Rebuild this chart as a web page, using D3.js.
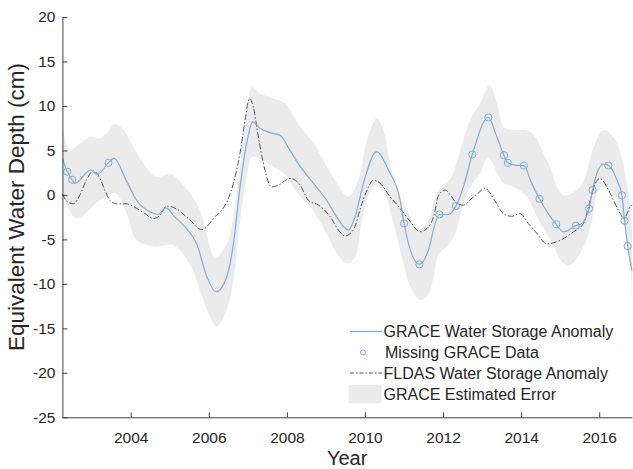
<!DOCTYPE html>

<head>
    <meta charset="utf-8">
    <script src="https://d3js.org/d3.v7.min.js"></script>
    <style>
        body {
            margin: 0;
            background: #fff;
            font-family: "Liberation Sans", Arial, sans-serif;
        }

        .axis path,
        .axis line {
            stroke: #404040;
            stroke-width: 1;
        }

        .axis text {
            font-size: 15.5px;
            fill: #262626;
            font-family: "Liberation Sans", Arial, sans-serif;
        }

        .legend text {
            font-size: 16px;
            fill: #262626;
        }
    </style>
</head>

<body>
    <script>
        // GRACE water storage anomaly (cm)
        var graceYears = [2002.25, 2002.375, 2002.50, 2002.57, 2002.975, 2003.14, 2003.43, 2003.57, 2003.90, 2004.15,
            2004.49, 2004.71, 2004.90, 2005.135, 2005.43, 2005.69, 2005.95, 2006.185, 2006.46, 2006.63,
            2006.80, 2006.97, 2007.125, 2007.31, 2007.57, 2007.825, 2008.08, 2008.34, 2008.68, 2009.02,
            2009.28, 2009.575, 2009.75, 2009.96, 2010.30, 2010.60, 2010.90, 2011.00, 2011.395, 2011.625,
            2011.80, 2011.905, 2012.14, 2012.33, 2012.52, 2012.75, 2013.16, 2013.38, 2013.56, 2013.66,
            2013.85, 2014.07, 2014.27, 2014.47, 2014.90, 2015.08, 2015.40, 2015.555, 2015.74, 2015.83,
            2015.94, 2016.11, 2016.235, 2016.45, 2016.58, 2016.65, 2016.73, 2016.84];
        var graceCm = [4.1, 2.6, 1.7, 1.3, 2.8, 2.3, 3.6, 4.1, 1.5, -0.6,
            -1.9, -2.2, -1.45, -2.5, -3.8, -5.5, -9.2, -10.9, -9.2, -5.5,
            0.9, 5.8, 8.2, 7.5, 7.0, 6.7, 5.0, 3.2, 1.3, -0.6,
            -2.5, -3.95, -2.4, 1.3, 4.85, 2.8, -0.6, -3.2, -7.8, -6.2,
            -3.2, -2.2, -2.2, -1.25, 0.9, 4.55, 8.7, 6.5, 4.45, 3.6,
            3.35, 3.3, 1.3, -0.45, -3.3, -4.15, -3.45, -3.2, -1.55, 0.55,
            2.4, 3.45, 3.3, 1.7, -0.05, -2.9, -5.75, -8.5];

        // months without GRACE data (filled values)
        var missYears = [2002.375, 2002.50, 2003.43, 2011.00, 2011.395, 2011.905, 2012.33, 2012.75, 2013.16, 2013.56,
            2013.66, 2014.07, 2014.47, 2014.90, 2015.40, 2015.74, 2015.83, 2016.235, 2016.58, 2016.65, 2016.73];
        var missCm = [2.6, 1.7, 3.6, -3.2, -7.8, -2.2, -1.25, 4.55, 8.7, 4.45,
            3.6, 3.3, -0.45, -3.3, -3.45, -1.55, 0.55, 3.3, -0.05, -2.9, -5.75];

        // FLDAS water storage anomaly (cm)
        var fldasYears = [2002.25, 2002.36, 2002.53, 2002.70, 2002.87, 2003.04, 2003.195, 2003.34, 2003.47, 2003.64,
            2003.90, 2004.11, 2004.365, 2004.58, 2004.75, 2004.92, 2005.18, 2005.475, 2005.82, 2006.16,
            2006.46, 2006.63, 2006.80, 2006.93, 2007.04, 2007.14, 2007.27, 2007.415, 2007.61, 2007.78,
            2008.08, 2008.34, 2008.55, 2008.81, 2009.11, 2009.32, 2009.49, 2009.70, 2009.92, 2010.09,
            2010.215, 2010.39, 2010.64, 2010.90, 2011.16, 2011.41, 2011.625, 2011.78, 2011.87, 2012.05,
            2012.22, 2012.35, 2012.52, 2012.68, 2012.90, 2013.07, 2013.32, 2013.545, 2013.76, 2013.97,
            2014.18, 2014.40, 2014.66, 2015.00, 2015.34, 2015.60, 2015.77, 2015.90, 2016.02, 2016.195,
            2016.365, 2016.49, 2016.64, 2016.79, 2016.84];
        var fldasCm = [0.1, -0.7, -1.0, 0.0, 1.7, 2.7, 2.0, 0.5, -0.6, -1.0,
            -1.0, -1.4, -2.1, -2.65, -2.3, -1.25, -1.6, -2.65, -3.9, -2.45,
            -0.8, 1.3, 4.7, 8.4, 10.85, 9.9, 6.5, 3.2, 0.9, 1.1,
            1.85, 1.1, -0.6, -1.15, -2.45, -3.95, -4.6, -3.95, -1.0, 0.9,
            1.65, 1.3, -0.2, -1.5, -3.0, -4.15, -3.6, -2.1, -0.2, 0.55,
            -0.2, -0.95, -1.15, -0.6, 0.2, 0.75, -0.6, -2.1, -2.4, -2.1,
            -3.2, -4.3, -5.5, -5.1, -4.15, -3.2, -0.6, 1.3, 1.85, 0.9,
            -0.6, -1.7, -2.65, -1.35, -1.1];

        // GRACE estimated error envelope (cm)
        var errUpYears = [2002.25, 2002.445, 2002.70, 2002.96, 2003.21, 2003.385, 2003.60, 2003.81, 2004.07, 2004.32,
            2004.665, 2005.01, 2005.26, 2005.52, 2005.77, 2005.95, 2006.16, 2006.46, 2006.715, 2006.885,
            2007.01, 2007.10, 2007.31, 2007.65, 2007.95, 2008.34, 2008.68, 2008.935, 2009.28, 2009.575,
            2009.83, 2010.05, 2010.30, 2010.47, 2010.64, 2010.815, 2011.07, 2011.37, 2011.625, 2011.80,
            2011.93, 2012.19, 2012.44, 2012.69, 2012.95, 2013.19, 2013.38, 2013.55, 2013.72, 2014.23,
            2014.66, 2015.08, 2015.51, 2015.86, 2016.11, 2016.41, 2016.71, 2016.84];
        var errUpCm = [7.8, 5.0, 5.8, 6.5, 6.35, 6.9, 8.0, 7.3, 5.4, 3.55,
            2.0, 2.4, 1.5, 0.2, -1.7, -4.6, -7.1, -5.5, 0.2, 6.5,
            10.3, 12.15, 11.4, 10.85, 10.3, 7.65, 5.8, 3.9, 1.3, -0.2,
            1.65, 6.15, 8.6, 7.3, 3.55, 0.55, -1.7, -3.95, -2.8, -0.2,
            0.9, 1.85, 5.0, 8.4, 10.3, 12.35, 10.3, 7.65, 7.3, 7.1,
            3.9, 0.0, 0.9, 5.4, 7.3, 6.2, 1.3, -4.0];
        var errLoYears = [2002.25, 2002.40, 2002.62, 2003.21, 2003.60, 2003.90, 2004.15, 2004.665, 2005.09, 2005.52,
            2005.77, 2005.99, 2006.20, 2006.45, 2006.63, 2006.80, 2006.97, 2007.12, 2007.40, 2007.70,
            2007.95, 2008.25, 2008.60, 2009.02, 2009.28, 2009.54, 2009.75, 2009.88, 2010.05, 2010.31,
            2010.48, 2010.69, 2010.90, 2011.16, 2011.41, 2011.59, 2011.76, 2011.89, 2012.10, 2012.32,
            2012.49, 2012.70, 2012.95, 2013.15, 2013.55, 2013.80, 2014.15, 2014.41, 2014.75, 2015.09,
            2015.26, 2015.60, 2015.78, 2015.99, 2016.20, 2016.46, 2016.75, 2016.84];
        var errLoCm = [0.3, -1.5, -2.65, -0.6, 0.2, -2.1, -5.1, -5.8, -5.65, -7.8,
            -10.7, -13.3, -14.8, -13.0, -9.5, -3.0, 2.0, 4.3, 3.8, 3.0,
            2.3, 0.3, -1.35, -4.3, -6.6, -7.7, -7.0, -3.95, -0.6, 1.3,
            0.55, -2.5, -6.2, -10.3, -11.8, -11.45, -9.2, -6.6, -5.8, -4.3,
            -1.35, 0.9, 2.4, 4.2, 1.3, 0.9, -0.2, -2.5, -5.1, -7.7,
            -7.9, -5.8, -3.6, 0.55, 0.9, -0.6, -6.2, -11.8];

        var yearTicks = [2004, 2006, 2008, 2010, 2012, 2014, 2016];
        var depthTicks = [-25, -20, -15, -10, -5, 0, 5, 10, 15, 20];

        var legendLabels = ["GRACE Water Storage Anomaly", "Missing GRACE Data",
            "FLDAS Water Storage Anomaly", "GRACE Estimated Error"];

        var width = 633,
            height = 469,
            plotLeft = 62.4,
            plotRight = 632,
            plotTop = 17,
            plotBottom = 417.3;

        var blue = "#7aaed8",
            gray = "#555555",
            band = "#ebebeb";

        var x = d3.scaleLinear().domain([2002.25, 2016.84]).range([plotLeft, plotRight]);
        var y = d3.scaleLinear().domain([-25, 20]).range([plotBottom, plotTop]);

        var svg = d3.select("body").append("svg")
            .attr("width", width)
            .attr("height", height);

        function pts(xs, ys) {
            return xs.map(function(d, i) {
                return [x(d), y(ys[i])];
            });
        }

        // error band: upper edge forward, lower edge back
        var edge = d3.line().curve(d3.curveCatmullRom);
        var upPath = edge(pts(errUpYears, errUpCm));
        var loPath = edge(pts(errLoYears, errLoCm).reverse());
        svg.append("path")
            .attr("d", upPath + "L" + loPath.slice(1) + "Z")
            .attr("fill", band)
            .attr("stroke", "none");

        var line = d3.line().curve(d3.curveMonotoneX);

        svg.append("path")
            .attr("d", line(pts(fldasYears, fldasCm)))
            .attr("fill", "none")
            .attr("stroke", gray)
            .attr("stroke-width", 1)
            .attr("stroke-dasharray", "6,2,1.5,2");

        svg.append("path")
            .attr("d", line(pts(graceYears, graceCm)))
            .attr("fill", "none")
            .attr("stroke", blue)
            .attr("stroke-width", 1.2);

        svg.selectAll("circle.miss")
            .data(missYears)
            .enter().append("circle")
            .attr("class", "miss")
            .attr("cx", function(d) { return x(d); })
            .attr("cy", function(d, i) { return y(missCm[i]); })
            .attr("r", 3.6)
            .attr("fill", "none")
            .attr("stroke", blue)
            .attr("stroke-width", 1);

        // axes, ticks pointing inward
        svg.append("g")
            .attr("class", "axis")
            .attr("transform", "translate(0," + plotBottom + ")")
            .call(d3.axisBottom(x).tickValues(yearTicks).tickSizeInner(-5).tickSizeOuter(0)
                .tickPadding(15).tickFormat(function(d) { return String(d); }));

        svg.append("g")
            .attr("class", "axis")
            .attr("transform", "translate(" + plotLeft + ",0)")
            .call(d3.axisLeft(y).tickValues(depthTicks).tickSizeInner(-5).tickSizeOuter(0)
                .tickPadding(7).tickFormat(function(d) { return String(d); }));

        svg.selectAll(".axis .domain").attr("stroke", "#404040");

        svg.append("text")
            .attr("x", (plotLeft + plotRight) / 2)
            .attr("y", 465)
            .attr("text-anchor", "middle")
            .attr("font-size", "20px")
            .attr("fill", "#262626")
            .text("Year");

        svg.append("text")
            .attr("transform", "translate(24,207) rotate(-90)")
            .attr("text-anchor", "middle")
            .attr("font-size", "22.5px")
            .attr("fill", "#262626")
            .text("Equivalent Water Depth (cm)");

        // legend
        var lg = svg.append("g").attr("class", "legend");
        var rowY = [331.5, 352.5, 373, 394];

        lg.append("line")
            .attr("x1", 350).attr("x2", 382)
            .attr("y1", rowY[0]).attr("y2", rowY[0])
            .attr("stroke", blue).attr("stroke-width", 1.3);
        lg.append("circle")
            .attr("cx", 363).attr("cy", rowY[1]).attr("r", 2.6)
            .attr("fill", "none").attr("stroke", blue);
        lg.append("line")
            .attr("x1", 350).attr("x2", 382)
            .attr("y1", rowY[2]).attr("y2", rowY[2])
            .attr("stroke", gray).attr("stroke-width", 1)
            .attr("stroke-dasharray", "4,2,1.5,2");
        lg.append("rect")
            .attr("x", 348.5).attr("y", rowY[3] - 9)
            .attr("width", 33).attr("height", 18)
            .attr("fill", band);

        lg.selectAll("text")
            .data(legendLabels)
            .enter().append("text")
            .attr("x", function(d, i) { return i == 1 ? 385 : 383.5; })
            .attr("y", function(d, i) { return rowY[i]; })
            .attr("dy", "0.35em")
            .text(String);
    </script>
</body>
